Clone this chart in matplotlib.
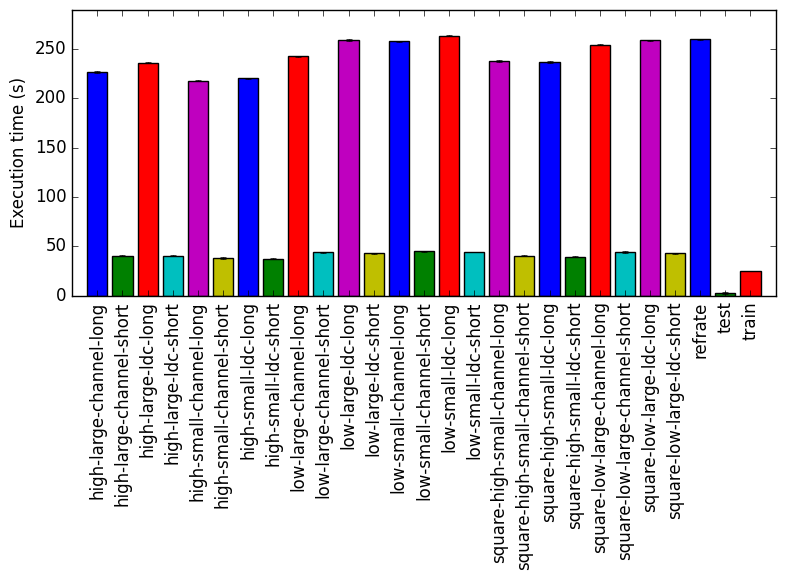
import matplotlib
matplotlib.use('Agg')
import matplotlib.pyplot as plt
import numpy as np

plt.style.use('classic')

# ── data ────────────────────────────────────
benchmarks = [
    'high-large-channel-long', 'high-large-channel-short',
    'high-large-ldc-long', 'high-large-ldc-short',
    'high-small-channel-long', 'high-small-channel-short',
    'high-small-ldc-long', 'high-small-ldc-short',
    'low-large-channel-long', 'low-large-channel-short',
    'low-large-ldc-long', 'low-large-ldc-short',
    'low-small-channel-long', 'low-small-channel-short',
    'low-small-ldc-long', 'low-small-ldc-short',
    'square-high-small-channel-long', 'square-high-small-channel-short',
    'square-high-small-ldc-long', 'square-high-small-ldc-short',
    'square-low-large-channel-long', 'square-low-large-channel-short',
    'square-low-large-ldc-long', 'square-low-large-ldc-short',
    'refrate', 'test', 'train',
]
exec_time = [226.7, 40.5, 235.8, 40.5, 217.6, 38.5, 220.3, 37.4,
             242.6, 44.2, 258.8, 43.2, 257.7, 45.2, 263.2, 44.2,
             237.5, 40.5, 236.5, 39.5, 254.0, 44.2, 258.8, 43.2,
             259.8, 2.7, 25.0]
exec_err = [0.8, 0.4, 0.5, 0.4, 0.5, 0.8, 0.5, 0.4,
            0.5, 0.5, 0.8, 0.5, 0.5, 0.5, 0.5, 0.4,
            0.8, 0.5, 0.8, 0.6, 0.5, 0.6, 0.5, 0.5,
            0.5, 0.6, 0.4]

colors = ['b', 'g', 'r', 'c', 'm', 'y']

fig, ax = plt.subplots(figsize=(7.85, 5.81), dpi=100)
x = np.arange(len(benchmarks))
ax.bar(x, exec_time, width=0.8, align='center',
       color=[colors[i % len(colors)] for i in x],
       yerr=exec_err, ecolor='k', capsize=2)
ax.set_xticks(x)
ax.set_xticklabels(benchmarks, rotation=90)
ax.set_xlim(-1, len(benchmarks))
ax.set_ylim(0, max(exec_time) * 1.1)
ax.set_ylabel('Execution time (s)')
fig.subplots_adjust(left=0.092, right=0.988, top=0.983, bottom=0.491)
plt.savefig('out.png', dpi=100)
